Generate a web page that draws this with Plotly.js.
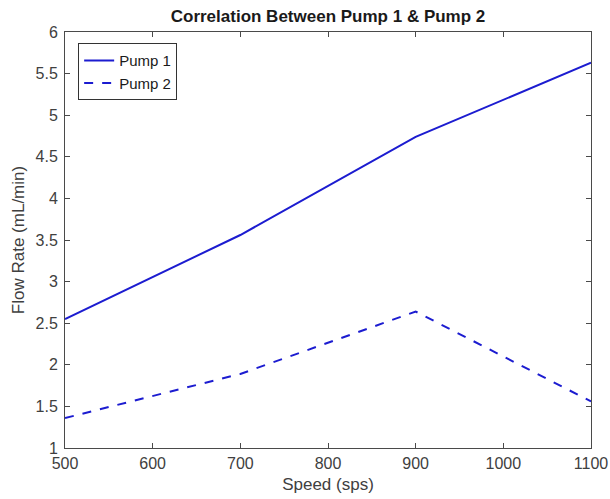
<!DOCTYPE html>
<html>
<head>
<meta charset="utf-8">
<script src="https://cdn.plot.ly/plotly-3.0.1.min.js"></script>
<style>html,body{margin:0;padding:0;background:#fff;}#chart{width:610px;height:499px;}</style>
</head>
<body>
<div id="chart"></div>
<script>
const speed = [500, 700, 900, 1100];
const pump1 = [2.55, 3.56, 4.74, 5.63];
const pump2 = [1.36, 1.89, 2.64, 1.56];
const xTicks = [500, 600, 700, 800, 900, 1000, 1100];
const yTicks = [1, 1.5, 2, 2.5, 3, 3.5, 4, 4.5, 5, 5.5, 6];

const lineColor = '#1c1cd0';
const axisColor = '#4a4a4a';
const font = 'Arial, "Liberation Sans", sans-serif';

const traces = [
  {x: speed, y: pump1, name: 'Pump 1', mode: 'lines', line: {color: lineColor, width: 2, dash: 'solid'}},
  {x: speed, y: pump2, name: 'Pump 2', mode: 'lines', line: {color: lineColor, width: 2, dash: 'dash'}}
];

const axisCommon = {
  showgrid: false, zeroline: false, showline: true, mirror: 'ticks',
  linecolor: axisColor, linewidth: 1, ticks: 'inside', ticklen: 5,
  tickcolor: axisColor, tickwidth: 1,
  tickfont: {family: font, size: 16, color: '#404040'}
};

const layout = {
  width: 610, height: 499,
  margin: {l: 65, r: 19, t: 32, b: 51, pad: 0},
  paper_bgcolor: '#fff', plot_bgcolor: '#fff',
  title: {text: '<b>Correlation Between Pump 1 & Pump 2</b>', xref: 'paper', x: 0.5, xanchor: 'center',
          yref: 'container', y: 0.967, yanchor: 'middle',
          font: {family: font, size: 17, color: '#1a1a1a'}},
  xaxis: Object.assign({}, axisCommon, {
    range: [500, 1100], tickvals: xTicks, ticktext: xTicks.map(String), ticklabelstandoff: 1,
    title: {text: 'Speed (sps)', font: {family: font, size: 17, color: '#404040'}, standoff: 6}
  }),
  yaxis: Object.assign({}, axisCommon, {
    range: [1, 6], tickvals: yTicks, ticktext: yTicks.map(String), ticklabelstandoff: 3,
    title: {text: 'Flow Rate (mL/min)', font: {family: font, size: 17, color: '#404040'}, standoff: 6}
  }),
  legend: {x: 0.025, y: 0.973, xanchor: 'left', yanchor: 'top', bgcolor: '#fff',
           bordercolor: '#333', borderwidth: 1, tracegroupgap: 0,
           font: {family: font, size: 15, color: '#1a1a1a'}},
  showlegend: true
};

Plotly.newPlot('chart', traces, layout, {displayModeBar: false, staticPlot: true});
</script>
</body>
</html>
